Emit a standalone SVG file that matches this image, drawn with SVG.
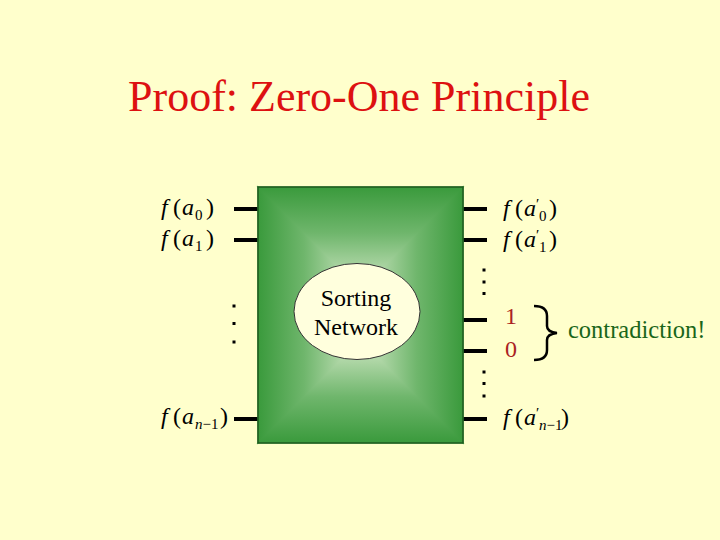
<svg xmlns="http://www.w3.org/2000/svg" width="720" height="540" viewBox="0 0 720 540">
<style>
.t{font-family:"Liberation Serif","Times New Roman",serif;}
.m{font-family:"Liberation Serif","Times New Roman",serif;font-size:24px;fill:#000;}
.i{font-style:italic;}
.s{font-size:15px;}
.stub{stroke:#000;stroke-width:4;}
.dot{fill:#000;}
.g{stroke-width:1.2;}
</style>
<defs>
<linearGradient id="gL" x1="0" y1="0" x2="1" y2="0"><stop offset="0" stop-color="#3a9a3c"/><stop offset="0.45" stop-color="#6fb66c"/><stop offset="1" stop-color="#d2e8c6"/></linearGradient>
<linearGradient id="gR" x1="1" y1="0" x2="0" y2="0"><stop offset="0" stop-color="#3a9a3c"/><stop offset="0.45" stop-color="#6fb66c"/><stop offset="1" stop-color="#d2e8c6"/></linearGradient>
<linearGradient id="gT" x1="0" y1="0" x2="0" y2="1"><stop offset="0" stop-color="#3a9a3c"/><stop offset="0.45" stop-color="#6fb66c"/><stop offset="1" stop-color="#d2e8c6"/></linearGradient>
<linearGradient id="gB" x1="0" y1="1" x2="0" y2="0"><stop offset="0" stop-color="#3a9a3c"/><stop offset="0.45" stop-color="#6fb66c"/><stop offset="1" stop-color="#d2e8c6"/></linearGradient>
</defs>
<rect width="720" height="540" fill="#ffffcc"/>
<text class="t" x="359" y="111" font-size="44" fill="#dd1111" text-anchor="middle">Proof: Zero-One Principle</text>

<g id="connectors">
<line class="stub" x1="234" y1="209" x2="258" y2="209"/>
<line class="stub" x1="234" y1="240" x2="258" y2="240"/>
<line class="stub" x1="234" y1="419" x2="258" y2="419"/>
<line class="stub" x1="463" y1="209" x2="487" y2="209"/>
<line class="stub" x1="463" y1="240" x2="487" y2="240"/>
<line class="stub" x1="463" y1="320" x2="487" y2="320"/>
<line class="stub" x1="463" y1="351" x2="487" y2="351"/>
<line class="stub" x1="463" y1="419" x2="487" y2="419"/>
</g>

<g id="network">
<polygon class="g" points="258,187 360.5,289.5 360.5,340.5 258,443" fill="url(#gL)" stroke="url(#gL)"/>
<polygon class="g" points="463,187 360.5,289.5 360.5,340.5 463,443" fill="url(#gR)" stroke="url(#gR)"/>
<polygon class="g" points="258,187 463,187 360.5,289.5" fill="url(#gT)" stroke="url(#gT)"/>
<polygon class="g" points="258,443 463,443 360.5,340.5" fill="url(#gB)" stroke="url(#gB)"/>
<rect x="258" y="187" width="205" height="256" fill="none" stroke="#1e5a1e" stroke-width="1.5"/>
<ellipse cx="357" cy="311.5" rx="63" ry="48" fill="#ffffdd" stroke="#333" stroke-width="1"/>
<text class="m" x="356" y="306" text-anchor="middle">Sorting</text>
<text class="m" x="356" y="335" text-anchor="middle">Network</text>
</g>

<g id="inputs">
<text class="m" y="215"><tspan class="i" x="161">f</tspan><tspan x="173">(</tspan><tspan class="i" x="182">a</tspan><tspan class="s" x="195" dy="5">0</tspan><tspan x="206" dy="-5">)</tspan></text>
<text class="m" y="246"><tspan class="i" x="161">f</tspan><tspan x="173">(</tspan><tspan class="i" x="182">a</tspan><tspan class="s" x="195" dy="5">1</tspan><tspan x="206" dy="-5">)</tspan></text>
<text class="m" y="424"><tspan class="i" x="161">f</tspan><tspan x="173">(</tspan><tspan class="i" x="182">a</tspan><tspan class="s" x="195" dy="5"><tspan class="i">n</tspan>−1</tspan><tspan x="220" dy="-5">)</tspan></text>
<rect class="dot" x="232.5" y="304.5" width="3" height="3"/>
<rect class="dot" x="232.5" y="322" width="3" height="3"/>
<rect class="dot" x="232.5" y="340.5" width="3" height="3"/>
</g>

<g id="outputs">
<text class="m" y="216"><tspan class="i" x="503">f</tspan><tspan x="515">(</tspan><tspan class="i" x="524">a</tspan><tspan class="s" x="536" dy="-7">′</tspan><tspan class="s" x="539" dy="12">0</tspan><tspan x="549" dy="-5">)</tspan></text>
<text class="m" y="247"><tspan class="i" x="503">f</tspan><tspan x="515">(</tspan><tspan class="i" x="524">a</tspan><tspan class="s" x="536" dy="-7">′</tspan><tspan class="s" x="539" dy="12">1</tspan><tspan x="549" dy="-5">)</tspan></text>
<text class="m" y="425"><tspan class="i" x="503">f</tspan><tspan x="515">(</tspan><tspan class="i" x="524">a</tspan><tspan class="s" x="536" dy="-7">′</tspan><tspan class="s" x="539" dy="12"><tspan class="i">n</tspan>−1</tspan><tspan x="561" dy="-5">)</tspan></text>
<rect class="dot" x="482.5" y="268.5" width="3" height="3"/>
<rect class="dot" x="482.5" y="280.5" width="3" height="3"/>
<rect class="dot" x="482.5" y="292" width="3" height="3"/>
<rect class="dot" x="482.5" y="370.5" width="3" height="3"/>
<rect class="dot" x="482.5" y="382" width="3" height="3"/>
<rect class="dot" x="482.5" y="394.5" width="3" height="3"/>
</g>

<g id="contradiction">
<text class="m" x="505" y="324" style="fill:#aa2222">1</text>
<text class="m" x="505" y="357" style="fill:#aa2222">0</text>
<path d="M534,306 Q547,306 547,316 L547,326 Q547,332 557,333 Q547,334 547,340 L547,350 Q547,360 534,360" fill="none" stroke="#000" stroke-width="2.5"/>
<text class="m" x="568" y="338" style="fill:#1a661a;font-size:24.5px">contradiction!</text>
</g>
</svg>
